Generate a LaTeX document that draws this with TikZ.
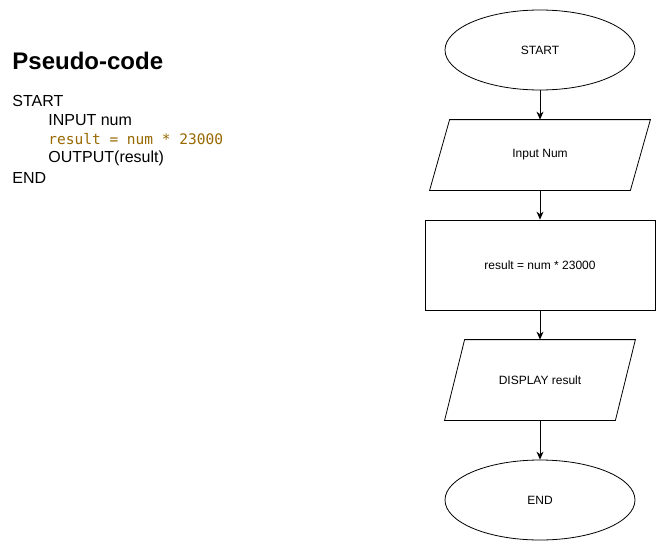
\documentclass[tikz,border=0pt]{standalone}
\usepackage{fontspec}
\setmainfont{Liberation Sans}
\setmonofont{DejaVu Sans Mono}
\usetikzlibrary{arrows.meta,shapes.geometric}
\definecolor{codebrown}{RGB}{152,104,1}
\tikzset{
  terminal/.style={draw, ellipse, minimum width=190pt, minimum height=80pt, inner sep=0pt, font=\fontsize{12}{14}\selectfont},
  io/.style={rectangle, inner sep=0pt, font=\fontsize{12}{14}\selectfont},
  process/.style={draw, rectangle, minimum width=230pt, minimum height=90pt, inner sep=0pt, font=\fontsize{12}{14}\selectfont},
  code/.style={anchor=west, inner sep=0pt, font=\fontsize{16}{18}\selectfont},
  flow/.style={-{Stealth[length=8pt,width=7pt]}}
}
% parallelogram round an io node: #1 = node, #2 = half slant
\newcommand{\slantbox}[2]{%
  \draw ([xshift=#2]#1.north west) -- ([xshift=#2]#1.north east)
    -- ([xshift=-#2]#1.south east) -- ([xshift=-#2]#1.south west) -- cycle;}
\begin{document}
\begin{tikzpicture}[x=1pt, y=-1pt, line width=0.8pt]
\useasboundingbox (0,0) rectangle (666,551);
% pseudo-code
\node[anchor=west, inner sep=0pt, font=\fontsize{24}{27}\selectfont\bfseries] (title) at (12,61) {Pseudo-code};
\node[code] (cstart) at (12,101) {START};
\node[code] (cinput) at (48,120) {INPUT num};
\node[code, text=codebrown, font=\fontsize{14.5}{17}\ttfamily] (ccalc) at (48,139) {result = num * 23000};
\node[code] (coutput) at (48,158) {OUTPUT(result)};
\node[code] (cend) at (12,178) {END};
% flowchart
\node[terminal] (start) at (540,50) {START};
\node[io, minimum width=200pt, minimum height=70pt] (input) at (540,155) {Input Num};
\slantbox{input}{10pt}
\node[process] (calc) at (540,265) {result = num * 23000};
\node[io, minimum width=170pt, minimum height=80pt] (display) at (540,380) {DISPLAY result};
\slantbox{display}{10pt}
\node[terminal] (end) at (540,500) {END};
\draw[flow] (start) -- (input);
\draw[flow] (input) -- (calc);
\draw[flow] (calc) -- (display);
\draw[flow] (display) -- (end);
\end{tikzpicture}
\end{document}
